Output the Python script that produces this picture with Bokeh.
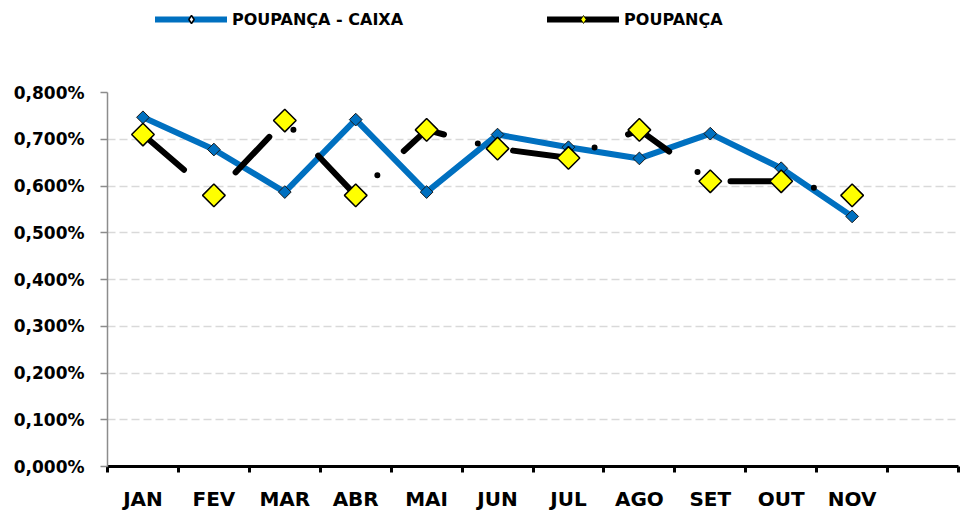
import numpy as np
from bokeh.plotting import figure
from bokeh.layouts import column
from bokeh.models import Range1d, FixedTicker, Legend, LegendItem
from bokeh.embed import file_html
from bokeh.resources import INLINE

months = ["JAN", "FEV", "MAR", "ABR", "MAI", "JUN", "JUL", "AGO", "SET", "OUT", "NOV"]
n_slots = 12
caixa = [0.747, 0.678, 0.587, 0.742, 0.587, 0.710, 0.683, 0.659, 0.712, 0.638, 0.535]
poupanca = [0.71, 0.58, 0.74, 0.58, 0.72, 0.68, 0.66, 0.72, 0.61, 0.61, 0.58]
y_ticks = [0.0, 0.1, 0.2, 0.3, 0.4, 0.5, 0.6, 0.7, 0.8]
series_names = ["POUPANÇA - CAIXA", "POUPANÇA"]

x = [i + 0.5 for i in range(len(months))]
FONT = "DejaVu Sans"
BLUE = "#0070C0"
YELLOW = "#FFFF00"

LEG_H = 40
p = figure(width=961, height=513 - LEG_H, x_range=Range1d(0, n_slots), y_range=Range1d(0, 0.8),
           output_backend="svg", toolbar_location=None,
           min_border_left=107, min_border_right=3, min_border_top=92 - LEG_H,
           min_border_bottom=46)
p.outline_line_color = None
p.background_fill_color = "white"

# x axis
xa = p.xaxis[0]
xa.ticker = FixedTicker(ticks=x, minor_ticks=list(range(n_slots + 1)))
xa.major_label_overrides = {v: m for v, m in zip(x, months)}
xa.major_tick_in = 0
xa.major_tick_out = 0
xa.major_tick_line_color = None
xa.minor_tick_in = 0
xa.minor_tick_out = 6
xa.minor_tick_line_color = "black"
xa.minor_tick_line_width = 3
xa.axis_line_color = "black"
xa.axis_line_width = 3
xa.major_label_text_font = FONT
xa.major_label_text_font_style = "bold"
xa.major_label_text_font_size = "20px"
xa.major_label_text_color = "black"
xa.major_label_standoff = 14

# y axis
ya = p.yaxis[0]
ya.ticker = FixedTicker(ticks=y_ticks, minor_ticks=[])
ya.major_label_overrides = {v: ("%.3f%%" % v).replace(".", ",") for v in y_ticks}
ya.major_tick_in = 0
ya.major_tick_out = 7
ya.major_tick_line_color = "#8c8c8c"
ya.major_tick_line_width = 1.5
ya.axis_line_color = "#8c8c8c"
ya.axis_line_width = 1.5
ya.major_label_text_font = FONT
ya.major_label_text_font_style = "bold"
ya.major_label_text_font_size = "17px"
ya.major_label_text_color = "black"
ya.major_label_standoff = 16

p.xgrid.visible = False
p.ygrid.grid_line_color = "#d9d9d9"
p.ygrid.grid_line_dash = "8 4"
p.ygrid.grid_line_width = 1.5

p.line(x, caixa, line_color=BLUE, line_width=6, line_join="round", line_cap="round")
p.scatter(x, caixa, marker="square", size=9, angle=np.pi / 4,
          fill_color=BLUE, line_color="#1a1a1a", line_width=1)
p.line(x, poupanca, line_color="black", line_width=6, line_dash="49 35 0 36",
       line_dash_offset=115, line_cap="round", line_join="round")
p.scatter(x, poupanca, marker="square", size=16, angle=np.pi / 4,
          fill_color=YELLOW, line_color="black", line_width=1.5)

# legend figure on top (its frame is aligned with the main frame by the column)
pl = figure(width=961, height=LEG_H, x_range=Range1d(0, 1), y_range=Range1d(0, 1),
            output_backend="svg", toolbar_location=None,
            x_axis_location=None, y_axis_location=None,
            min_border_left=0, min_border_right=0, min_border_top=0, min_border_bottom=0)
pl.outline_line_color = None
pl.xgrid.visible = False
pl.ygrid.visible = False

lb_line = pl.line([0, 1], [-1, -1], line_color=BLUE, line_width=6, line_cap="round")
lb_mark = pl.scatter([0.5], [-1], marker="diamond", size=12, fill_color="white",
                     line_color="black", line_width=1.5)
lk_line = pl.line([0, 1], [-1, -1], line_color="black", line_width=6, line_cap="round")
lk_mark = pl.scatter([0.5], [-1], marker="diamond", size=10, fill_color=YELLOW,
                     line_color="black", line_width=0.8)

legend = Legend(items=[LegendItem(label=series_names[0], renderers=[lb_line, lb_mark]),
                       LegendItem(label=series_names[1], renderers=[lk_line, lk_mark])],
                orientation="horizontal", location=(48, 11),
                glyph_width=72, glyph_height=20, label_standoff=5, spacing=144,
                padding=0, margin=0, border_line_color=None, background_fill_alpha=0,
                label_text_font=FONT, label_text_font_style="bold",
                label_text_font_size="16px", label_text_color="black")
pl.add_layout(legend, "center")

layout = column(pl, p, spacing=0)
open("out.html", "w").write(file_html(layout, INLINE))
